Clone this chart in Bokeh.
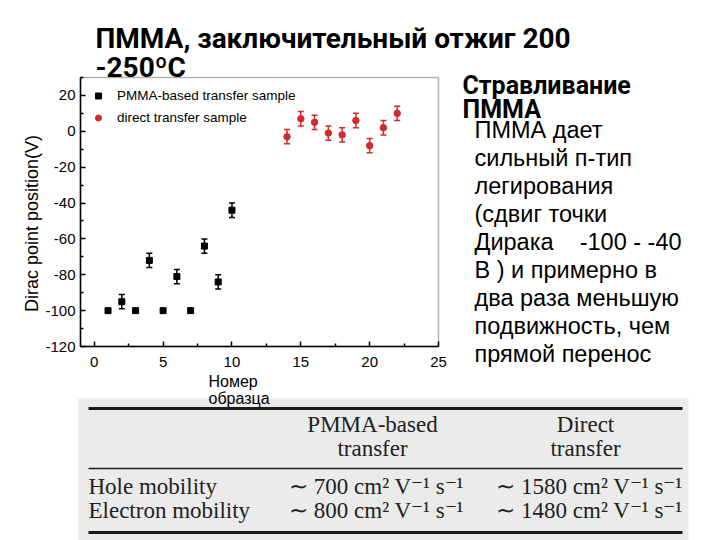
import math
from bokeh.plotting import figure
from bokeh.models import (Label, BoxAnnotation, Whisker, ColumnDataSource,
                          FixedTicker, TeeHead, Range1d)
from bokeh.embed import file_html
from bokeh.resources import INLINE

# ---------------- data ----------------
pmma_x = [1, 2, 3, 4, 5, 6, 7, 8, 9, 10]
pmma_y = [-100, -95, -100, -72, -100, -81, -100, -64, -84, -44]
pmma_err = [0, 4, 0, 4, 0, 4, 0, 4, 4, 4]

direct_x = [14, 15, 16, 17, 18, 19, 20, 21, 22]
direct_y = [-3, 7, 5, -1, -2, 6, -8, 2, 10]
direct_err = [4, 4, 4, 4, 4, 4, 4, 4, 4]

x_ticks = [0, 5, 10, 15, 20, 25]
y_ticks = [-120, -100, -80, -60, -40, -20, 0, 20]
x_lim = (-1, 25)
y_lim = (-120, 30)

legend_labels = ["PMMA-based transfer sample", "direct transfer sample"]
y_title = "Dirac point position(V)"
x_title = ["Номер", "образца"]

title_lines = ["ПММА, заключительный отжиг 200", "-250ºC"]
side_head = ["Стравливание", "ПММА"]
side_text = ["ПММА дает", "сильный п-тип", "легирования", "(сдвиг точки",
             "Дирака\u00a0\u00a0\u00a0\u00a0-100 - -40", "В ) и примерно в",
             "два раза меньшую", "подвижность, чем", "прямой перенос"]

table_header = [["PMMA-based", "transfer"], ["Direct", "transfer"]]
table_rows = ["Hole mobility", "Electron mobility"]
pmma_mobility = [700, 800]
direct_mobility = [1580, 1480]
mobility_unit = "cm\u00b2 V\u207b\u00b9 s\u207b\u00b9"

RED = "#d42a2a"

# ---------------- page geometry (page px) ----------------
W, H = 720, 540
FL, FR, FT, FB = 80, 438, 77, 346          # chart box on the page
KX = (x_lim[1] - x_lim[0]) / (FR - FL)
KY = (y_lim[1] - y_lim[0]) / (FB - FT)


def X(px):
    return x_lim[0] + (px - FL) * KX


def Y(py):
    return y_lim[1] - (py - FT) * KY


p = figure(width=W, height=H, x_range=Range1d(X(0), X(W)), y_range=Range1d(Y(H), Y(0)),
           output_backend="svg", toolbar_location=None, min_border=0)
p.background_fill_color = "white"
p.border_fill_color = "white"
p.xgrid.visible = False
p.ygrid.visible = False
p.outline_line_color = None

# chart box
p.add_layout(BoxAnnotation(left=x_lim[0], right=x_lim[1], bottom=y_lim[0], top=y_lim[1],
                           fill_alpha=0, line_color="black", line_width=1.5,
                           level="overlay"))


def minors(t, lim):
    step = t[1] - t[0]
    m = [v + step / 2 for v in t]
    return [v for v in m if lim[0] <= v <= lim[1]]


p.xaxis.ticker = FixedTicker(ticks=x_ticks, minor_ticks=minors(x_ticks, x_lim))
p.yaxis.ticker = FixedTicker(ticks=y_ticks, minor_ticks=minors(y_ticks, y_lim))
p.xaxis.major_label_overrides = {t: str(t) for t in x_ticks}
p.yaxis.major_label_overrides = {t: str(t) for t in y_ticks}
p.xaxis.fixed_location = y_lim[0]
p.yaxis.fixed_location = x_lim[0]
p.xaxis.bounds = x_lim
p.yaxis.bounds = y_lim
for ax in (p.xaxis[0], p.yaxis[0]):
    ax.major_tick_in = 5
    ax.major_tick_out = 0
    ax.minor_tick_in = 3
    ax.minor_tick_out = 0
    ax.axis_line_width = 1.5
    ax.major_tick_line_width = 1.5
    ax.minor_tick_line_width = 1.5
    ax.axis_line_color = "black"
    ax.major_tick_line_color = "black"
    ax.minor_tick_line_color = "black"
    ax.major_label_text_font = "Liberation Sans"
    ax.major_label_text_font_size = "15px"
    ax.major_label_text_color = "black"
p.yaxis.major_label_standoff = 5
p.xaxis.major_label_standoff = 10


def whisk(xs, ys, es, color):
    keep = [i for i, e in enumerate(es) if e > 0]
    src = ColumnDataSource(dict(x=[xs[i] for i in keep],
                                lo=[ys[i] - es[i] for i in keep],
                                hi=[ys[i] + es[i] for i in keep]))
    w = Whisker(source=src, base="x", lower="lo", upper="hi", dimension="height",
                line_color=color, line_width=1.5,
                lower_head=TeeHead(size=6, line_color=color, line_width=1.5),
                upper_head=TeeHead(size=6, line_color=color, line_width=1.5))
    w.level = "glyph"
    p.add_layout(w)


whisk(pmma_x, pmma_y, pmma_err, "black")
whisk(direct_x, direct_y, direct_err, RED)

p.scatter(pmma_x, pmma_y, marker="square", size=6, color="black",
          legend_label=legend_labels[0])
p.scatter(direct_x, direct_y, marker="circle", size=6.5, color=RED,
          legend_label=legend_labels[1])

lg = p.legend[0]
lg.location = "top_left"
lg.margin = 88
lg.padding = 0
lg.spacing = 7
lg.glyph_width = 20
lg.glyph_height = 15
lg.label_height = 15
lg.label_standoff = 9
lg.label_text_font = "Liberation Sans"
lg.label_text_font_size = "13.5px"
lg.label_text_color = "black"
lg.background_fill_alpha = 0
lg.border_line_alpha = 0

# ---------------- free text (page px) ----------------
SHIFT = 0.36   # baseline correction, in em


def lab(text, px, py, size, font="Liberation Sans", style="normal",
        align="left", color="black", angle=0.0):
    p.add_layout(Label(x=X(px), y=Y(py - SHIFT * size), text=text,
                       text_font=font, text_font_size=f"{size}px",
                       text_font_style=style, text_align=align,
                       text_baseline="alphabetic", text_color=color, angle=angle))


def box(l, r, t, b, color, level="underlay"):
    p.add_layout(BoxAnnotation(left=X(l), right=X(r), top=Y(t), bottom=Y(b),
                               fill_color=color, fill_alpha=1, line_alpha=0,
                               level=level))


# y axis title (rotated)
p.add_layout(Label(x=X(31), y=Y(223), text=y_title, text_font="Liberation Sans",
                   text_font_size="18px", text_align="center", text_baseline="middle",
                   angle=math.pi / 2, text_color="black"))

# slide title
lab(title_lines[0], 95, 48, 28, font="Roboto", style="bold")
lab(title_lines[1], 95, 77, 28, font="Roboto", style="bold")

# side heading + text
lab(side_head[0], 462, 94, 25, font="Roboto", style="bold")
lab(side_head[1], 462, 118, 25, font="Roboto", style="bold")
for i, line in enumerate(side_text):
    lab(line, 474, 138 + 28 * i, 23.5)

# table
box(78, 688, 398, 540, "#ebebeb")
box(88, 682, 406.5, 409.5, "#1a1a1a", level="overlay")
box(88, 682, 467.3, 468.7, "#1a1a1a", level="overlay")
box(88, 682, 530.5, 533.5, "#1a1a1a", level="overlay")

# x axis title (slide text)
lab(x_title[0], 208, 387, 16)
lab(x_title[1], 208, 404, 16)

col_centers = [372, 585]
serif = "Liberation Serif"
tcol = "#222222"
TS = 23
for c, hdr in zip(col_centers, table_header):
    lab(hdr[0], c, 432, TS, font=serif, align="center", color=tcol)
    lab(hdr[1], c, 456, TS, font=serif, align="center", color=tcol)
for j, name in enumerate(table_rows):
    yb = 494 + 24 * j
    lab(name, 88, yb, TS, font=serif, color=tcol)
    lab(f"\u223c {pmma_mobility[j]} {mobility_unit}", col_centers[0], yb, TS,
        font=serif, align="center", color=tcol)
    lab(f"\u223c {direct_mobility[j]} {mobility_unit}", col_centers[1], yb, TS,
        font=serif, align="center", color=tcol)

open("out.html", "w").write(file_html(p, INLINE))
